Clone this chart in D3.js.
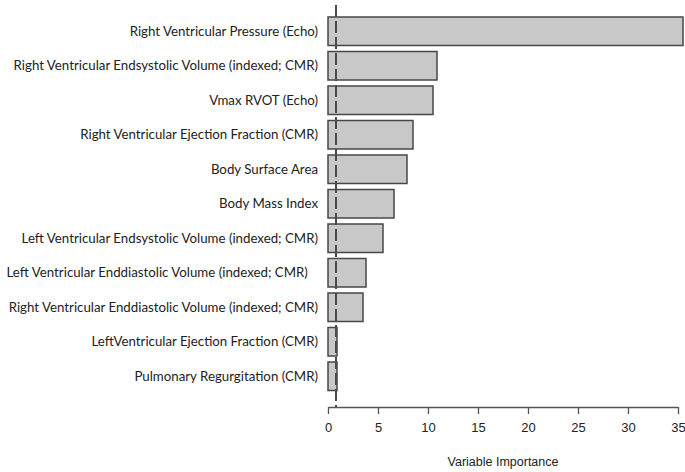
<!DOCTYPE html>
<html>
<head>
<meta charset="utf-8">
<script src="https://cdn.jsdelivr.net/npm/d3@7"></script>
<style>
  body { margin: 0; background: #fff; }
  svg { display: block; }
</style>
</head>
<body>
<div id="chart"></div>
<script>
// variables, top to bottom
var labels = [
    "Right Ventricular Pressure (Echo)",
    "Right Ventricular Endsystolic Volume (indexed; CMR)",
    "Vmax RVOT (Echo)",
    "Right Ventricular Ejection Fraction (CMR)",
    "Body Surface Area",
    "Body Mass Index",
    "Left Ventricular Endsystolic Volume (indexed; CMR)",
    "Left Ventricular Enddiastolic Volume (indexed; CMR)\u00a0\u00a0\u00a0",
    "Right Ventricular Enddiastolic Volume (indexed; CMR)",
    "LeftVentricular Ejection Fraction (CMR)",
    "Pulmonary Regurgitation (CMR)"
];
var importance = [35.5, 10.9, 10.5, 8.5, 7.9, 6.6, 5.5, 3.8, 3.5, 0.9, 0.9];
var xTicks = [0, 5, 10, 15, 20, 25, 30, 35];
var cutoff = 0.8; // dashed reference line
var xTitle = "Variable Importance";

var width = 685;
var height = 472;

var svg = d3.select("#chart")
    .append("svg")
    .attr("width", width)
    .attr("height", height);

//scales
var x = d3.scaleLinear()
    .domain([0, 35])
    .range([328, 678]);

var y = d3.scaleBand()
    .domain(labels)
    .range([14, 393.5])
    .paddingInner(0.174)
    .paddingOuter(0.087);

//bars
svg.selectAll("rect.bar")
    .data(importance)
    .enter()
    .append("rect")
    .attr("class", "bar")
    .attr("x", x(0))
    .attr("y", function(d, i) { return y(labels[i]); })
    .attr("width", function(d) { return x(d) - x(0); })
    .attr("height", y.bandwidth())
    .attr("fill", "#c8c8c8")
    .attr("stroke", "#474747")
    .attr("stroke-width", 1.5);

//labels on the left
var labText = svg.selectAll("text.lab")
    .data(labels)
    .enter()
    .append("text")
    .attr("class", "lab")
    .attr("x", 318)
    .attr("y", function(d) { return y(d) + y.bandwidth() / 2; })
    .attr("dy", "0.35em")
    .attr("text-anchor", "end")
    .attr("font-family", "Lato, 'Open Sans', sans-serif")
    .attr("font-size", "14px")
    .attr("fill", "#222")
    .style("white-space", "pre")
    .text(function(d) { return d; });

// shrink font so the longest label fits from x=6 to 318 (like the original)
var widest = d3.max(labText.nodes(), function(n) { return n.getComputedTextLength(); });
labText.attr("font-size", (14 * 312 / widest) + "px");

//dashed line
svg.append("line")
    .attr("x1", x(cutoff))
    .attr("x2", x(cutoff))
    .attr("y1", 5)
    .attr("y2", 407)
    .attr("stroke", "#4a4a4a")
    .attr("stroke-width", 2)
    .attr("stroke-dasharray", "12,4");

//x axis
var axis = svg.append("g")
    .attr("transform", "translate(0,407)")
    .call(d3.axisBottom(x).tickValues(xTicks).tickSize(7).tickPadding(9).tickSizeOuter(0));

axis.select(".domain").attr("stroke", "#555").attr("stroke-width", 1.3);
axis.selectAll(".tick line").attr("stroke", "#555").attr("stroke-width", 1.3);
axis.selectAll(".tick text")
    .attr("font-family", "'Liberation Sans', Arial, sans-serif")
    .attr("font-size", "13px")
    .attr("fill", "#222");

svg.append("text")
    .attr("x", (x(0) + x(35)) / 2)
    .attr("y", 466)
    .attr("text-anchor", "middle")
    .attr("font-family", "'Liberation Sans', Arial, sans-serif")
    .attr("font-size", "12.5px")
    .attr("fill", "#222")
    .text(xTitle);
</script>
</body>
</html>
